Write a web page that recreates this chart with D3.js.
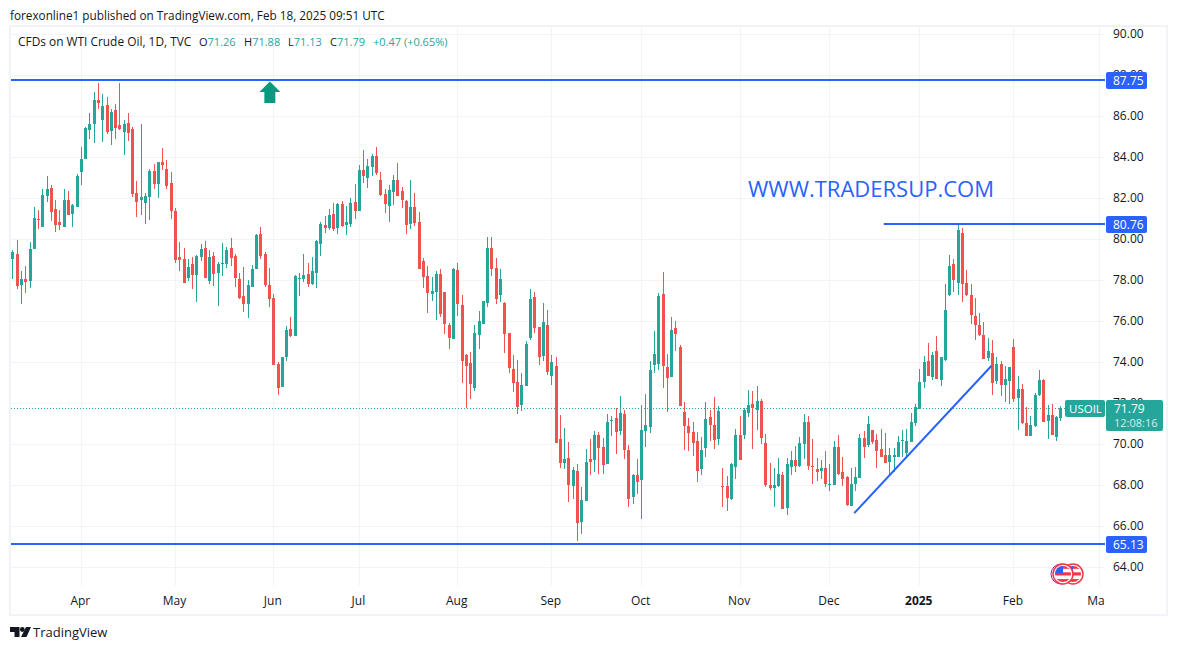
<!DOCTYPE html>
<html>
<head>
<meta charset="utf-8">
<script src="https://cdn.jsdelivr.net/npm/d3@7"></script>
<style>
    body { margin: 0; background: #fff; }
    text { font-family: "Open Sans", sans-serif; fill: #131722; }
</style>
</head>
<body>
<div id="chart"></div>
<script>
// Daily candles of USOIL
const opens = [
    79.04,79.28,77.77,78.07,77.97,79.53,80.99,80.6,82.11,82.5,
    81.48,80.85,80.6,81.92,81.24,81.58,83.28,83.92,85.33,85.63,
    86.8,85.82,86.55,85.28,86.31,85.58,85.24,85.67,85.38,82.26,
    81.92,81.77,82.07,83.33,82.7,83.77,83.43,82.75,81.38,79.14,
    79.04,78.11,78.8,78.26,79.14,79.58,77.97,79.19,78.36,78.8,
    78.8,79.58,79.19,78.07,77.24,76.85,77.67,78.55,80.26,79.28,
    77.77,77.14,73.92,72.8,74.26,75.63,75.28,78.07,78.07,78.31,
    77.82,78.36,79.77,80.7,80.55,81.24,80.55,81.72,80.7,80.75,
    81.82,81.38,83.38,82.99,83.53,84.07,82.89,82.21,81.63,82.31,
    82.89,82.36,81.87,80.75,81.58,80.85,78.94,78.21,77.33,77.43,
    78.31,77.43,75.82,75.14,78.5,76.8,74.36,73.97,72.75,75.33,
    75.87,76.89,79.58,78.6,77.28,76.89,75.43,73.67,73.04,71.92,
    72.84,75.19,77.19,75.72,74.31,75.82,73.33,73.82,70.26,69.09,
    69.33,67.97,68.7,66.21,67.24,69.28,69.24,70.46,69.87,69.04,
    71.14,71.28,70.65,71.48,69.72,67.43,68.5,68.26,70.65,70.85,
    73.87,73.92,77.33,73.77,73.28,75.67,74.75,71.58,70.89,70.6,
    70.16,68.8,69.82,71.33,70.94,70.26,67.97,67.97,67.33,68.89,
    70.46,70.46,71.53,71.97,71.67,72.11,70.07,68.02,67.87,67.97,
    68.5,66.89,68.9,69.24,68.94,70.02,71.09,68.94,68.8,68.7,
    68.85,68.02,68.02,69.87,68.65,68.41,66.99,68.07,68.36,70.31,
    69.97,70.7,70.21,69.77,69.48,69.14,69.38,69.38,70.21,69.58,
    70.11,71.04,71.72,73.04,74.07,73.28,74.55,73.14,74.11,77.28,
    78.8,77.87,80.31,77.87,77.28,76.26,75.82,75.33,74.21,74.46,
    73.09,73.92,72.89,73.09,74.75,72.26,72.7,71.04,70.41,70.89,
    72.41,73.14,71.14,71.43,70.36,71.26
];
const highs = [
    79.48,79.97,78.45,78.7,79.87,81.58,81.43,82.46,83.09,82.65,
    81.92,81.43,82.46,82.36,81.72,83.19,84.5,85.48,86.16,87.19,
    87.63,87.09,86.94,86.36,86.6,87.63,85.82,86.16,85.48,82.85,
    85.63,82.26,83.43,83.67,83.77,84.46,83.87,83.28,81.53,79.87,
    79.58,79.04,79.14,79.24,79.77,79.92,79.48,79.38,78.89,79.82,
    79.63,80.07,79.28,78.36,78.65,78.02,78.75,80.26,80.6,79.38,
    78.6,77.33,74.02,74.26,75.77,76.21,78.26,78.36,79.28,78.85,
    79.14,79.97,80.85,81.14,81.48,81.77,81.77,81.87,81.63,82.02,
    82.7,83.63,84.36,83.92,84.16,84.5,83.28,82.46,82.65,83.14,
    83.72,82.55,81.92,82.89,82.26,81.33,79.09,78.7,78.16,78.46,
    78.55,77.43,75.92,78.6,78.85,77.28,74.41,74.5,75.82,76.5,
    76.99,80.11,80.11,79.09,78.55,76.94,75.43,74.36,74.11,73.48,
    75.04,77.58,77.43,75.72,76.89,76.55,74.36,74.26,71.43,70.8,
    70.11,68.89,69.04,67.92,69.77,70.26,70.65,70.6,70.31,71.48,
    71.38,71.77,72.36,71.67,69.97,68.55,69.28,71.92,72.46,74.07,
    75.53,77.38,78.41,74.41,76.21,76.02,74.85,72.07,71.28,71.09,
    70.6,70.36,72.07,71.67,72.31,71.87,68.85,68.46,69.09,70.75,
    71.38,71.77,72.65,72.6,72.85,72.21,70.5,69.09,68.85,69.33,
    68.65,69.33,69.68,69.92,70.36,71.48,71.38,70.26,69.33,69.23,
    69.67,69.04,70.16,70.46,69.38,68.46,68.85,68.89,70.5,70.65,
    71.38,70.7,70.5,70.75,70.55,69.82,69.82,70.41,70.7,70.75,
    71.53,71.97,73.67,74.31,74.94,74.5,75.28,74.26,77.82,79.24,
    79.04,80.75,80.55,78.5,77.82,77.14,76.41,75.97,75.19,75.09,
    74.26,74.07,73.82,73.77,75.14,73.33,72.94,71.82,71.38,72.5,
    73.63,73.19,71.9,71.97,71.38,71.88
];
const lows = [
    78.07,77.56,76.85,77.38,77.63,79.53,80.5,80.6,81.82,80.89,
    80.36,80.46,80.6,81.19,80.6,81.58,82.65,83.92,84.89,84.7,
    86.34,84.75,85.14,84.6,84.89,85.33,84.11,84.8,82.07,81.09,
    81.19,80.75,80.94,82.46,82.02,83.38,82.46,80.99,78.85,78.46,
    77.87,77.97,77.58,76.94,78.94,78.11,77.82,77.72,76.75,78.21,
    78.6,78.7,77.67,77.09,76.45,76.16,77.67,78.55,79.04,77.67,
    76.7,73.87,72.41,72.8,74.07,75.24,75.28,77.24,77.92,77.67,
    77.77,77.63,79.19,80.31,80.46,80.41,80.26,80.6,80.21,80.6,
    80.99,81.38,82.75,82.5,83.09,83.14,82.11,81.28,80.85,81.67,
    82.11,81.53,80.26,80.5,80.65,78.55,77.63,76.41,76.99,76.07,
    76.21,75.38,74.65,75.14,76.26,72.99,71.76,72.21,72.6,74.65,
    75.87,76.7,78.21,76.85,76.94,74.46,73.48,72.55,71.48,71.63,
    72.84,75.09,75.43,73.87,74.07,73.38,72.89,70.07,68.85,68.8,
    67.19,67.33,65.28,65.63,67.24,68.5,68.65,68.55,68.55,69.04,
    70.41,69.53,70.46,69.28,66.94,67.09,67.58,66.36,69.87,70.55,
    73.48,73.63,72.75,71.58,73.28,74.55,71.87,69.72,69.67,69.43,
    68.16,68.5,69.38,70.16,69.77,69.97,66.94,66.75,67.28,68.31,
    69.24,70.26,71.33,69.77,70.7,70.02,67.92,67.77,66.94,67.92,
    66.85,66.55,68.5,68.65,68.9,69.28,68.75,68.07,68.21,68.31,
    67.92,67.72,68.02,68.5,67.97,66.99,66.99,67.72,68.36,69.33,
    69.87,70.02,68.85,69.38,69.09,68.46,68.65,69.38,69.38,69.43,
    70.11,70.89,71.72,72.75,73.33,73.14,73.19,72.85,74.06,77.23,
    77.43,77.28,76.94,77.23,75.87,75.09,75.28,74.16,74.06,72.41,
    72.94,72.36,72.07,71.97,72.07,70.7,70.99,70.41,70.41,70.84,
    72.36,71.09,70.26,70.46,70.16,71.13
];
const closes = [
    79.38,77.72,78.07,77.92,79.53,81.04,80.94,82.16,82.46,81.33,
    80.7,80.7,81.92,81.19,81.67,83.09,83.92,85.43,85.63,86.8,
    86.65,86.5,85.24,86.21,85.43,85.38,85.63,85.19,82.21,81.82,
    82.07,82.11,83.33,82.7,83.77,83.63,82.6,81.38,78.99,78.99,
    77.87,78.65,78.26,79.19,79.53,78.11,79.14,78.31,78.8,78.85,
    79.48,79.09,78.11,77.14,76.85,77.77,78.55,80.21,79.19,77.77,
    77.09,73.87,72.75,74.26,75.58,75.28,78.21,78.11,78.26,77.82,
    78.46,79.92,80.75,80.55,81.19,80.5,81.72,80.65,80.85,81.77,
    81.38,83.38,83.09,83.58,84.07,83.24,82.16,81.72,82.41,82.89,
    82.11,81.92,80.7,81.58,80.8,78.55,78.16,77.38,77.48,78.31,
    76.36,75.87,75.19,78.55,76.85,74.07,73.82,72.94,75.43,76.02,
    76.99,79.58,78.55,77.09,78.07,75.38,73.72,72.99,71.82,72.89,
    74.89,77.09,75.67,74.26,75.97,73.53,74.02,70.07,69.09,69.28,
    68.02,68.75,66.16,67.28,69.14,69.14,70.46,69.82,68.99,71.09,
    71.19,70.6,71.53,69.72,67.33,68.5,68.16,70.7,70.94,73.63,
    74.41,77.24,73.82,73.24,75.58,75.38,71.87,70.89,70.55,70.07,
    68.7,69.72,71.24,70.94,70.21,71.63,67.92,67.38,69.04,70.46,
    69.24,71.67,71.92,71.77,72.11,70.31,68.02,67.87,68.02,68.55,
    66.85,69.04,69.24,68.94,70.07,71.09,68.94,68.89,68.65,68.85,
    68.07,68.07,69.87,68.55,68.31,67.04,68.07,68.41,70.31,69.87,
    70.99,70.11,69.67,69.38,69.09,69.48,69.48,70.11,70.21,70.16,
    71.09,71.82,73.04,74.02,73.33,74.36,73.19,74.26,76.55,78.7,
    78.02,80.46,77.82,77.28,76.31,75.82,75.33,74.16,74.55,73.0,
    73.92,72.89,73.19,73.77,72.2,72.7,71.04,70.41,70.94,72.41,
    73.14,71.09,71.43,70.46,71.33,71.79
];

const priceTicks = [90, 88, 86, 84, 82, 80, 78, 76, 74, 72, 70, 68, 66, 64];
const monthLabels = ["Apr", "May", "Jun", "Jul", "Aug", "Sep", "Oct", "Nov", "Dec", "2025", "Feb", "Mar"];
const monthIndex = [16, 38, 61, 81, 104, 126, 147, 170, 191, 212, 234, 254];

// horizontal levels on the chart and the trend line [index, price]
const levels = [87.75, 80.76, 65.13];
const levelStart = [null, 203.7, null];
const trendLine = [[196.8, 66.64], [228.9, 73.83]];
const arrowIndex = 60;
const lastPrice = 71.79;

const width = 1177;
const height = 650;
const pane = {left: 11, right: 1105, top: 27, bottom: 586};
const teal = "#26a69a";
const red = "#ef5350";
const blue = "#2962ff";
const gridColor = "#f3f4f7";

const candles = opens.map(function(o, i) {
    return {i: i, o: o, h: highs[i], l: lows[i], c: closes[i]};
});

const xScale = d3.scaleLinear().domain([0, 245]).range([12.4, 1060.4]);
const yScale = d3.scaleLinear().domain([64, 84]).range([567.3, 157.3]);

const svg = d3.select("#chart").append("svg")
    .attr("width", width)
    .attr("height", height)
    .style("display", "block");

const defs = svg.append("defs");
defs.append("clipPath").attr("id", "paneClip").append("rect")
    .attr("x", pane.left).attr("y", pane.top)
    .attr("width", pane.right - pane.left).attr("height", pane.bottom - pane.top);
defs.append("clipPath").attr("id", "timeClip").append("rect")
    .attr("x", pane.left).attr("y", pane.bottom)
    .attr("width", pane.right - pane.left).attr("height", 29);

// Frame
svg.append("rect")
    .attr("x", 10).attr("y", 26)
    .attr("width", 1157).attr("height", 589)
    .attr("fill", "none").attr("stroke", "#f0f3fa").attr("stroke-width", 2);

// Header
svg.append("text")
    .attr("x", 10).attr("y", 19.5)
    .attr("font-size", 11.75)
    .text("forexonline1 published on TradingView.com, Feb 18, 2025 09:51 UTC");

// Grid
const plot = svg.append("g").attr("clip-path", "url(#paneClip)");
plot.selectAll(".hgrid").data(priceTicks).enter().append("line")
    .attr("x1", pane.left).attr("x2", pane.right)
    .attr("y1", function(d) { return Math.floor(yScale(d)) + 0.5; })
    .attr("y2", function(d) { return Math.floor(yScale(d)) + 0.5; })
    .attr("stroke", gridColor);
plot.selectAll(".vgrid").data(monthIndex).enter().append("line")
    .attr("x1", function(d) { return Math.round(xScale(d)) + 0.5; })
    .attr("x2", function(d) { return Math.round(xScale(d)) + 0.5; })
    .attr("y1", pane.top).attr("y2", pane.bottom)
    .attr("stroke", gridColor);

// Last price line
plot.append("line")
    .attr("x1", pane.left).attr("x2", pane.right)
    .attr("y1", Math.round(yScale(lastPrice)) + 0.5)
    .attr("y2", Math.round(yScale(lastPrice)) + 0.5)
    .attr("stroke", teal)
    .attr("stroke-dasharray", "1 2");

// Candles
const candleColor = function(d) { return d.c >= d.o ? teal : red; };

plot.selectAll(".wick").data(candles).enter().append("line")
    .attr("x1", function(d) { return Math.round(xScale(d.i)) + 0.5; })
    .attr("x2", function(d) { return Math.round(xScale(d.i)) + 0.5; })
    .attr("y1", function(d) { return Math.round(yScale(d.h)); })
    .attr("y2", function(d) { return Math.round(yScale(d.l)); })
    .attr("stroke", candleColor);

plot.selectAll(".body").data(candles).enter().append("rect")
    .attr("x", function(d) { return Math.round(xScale(d.i)) - 1; })
    .attr("width", 3)
    .attr("y", function(d) { return Math.round(yScale(Math.max(d.o, d.c))); })
    .attr("height", function(d) {
        return Math.max(1, Math.round(yScale(Math.min(d.o, d.c))) - Math.round(yScale(Math.max(d.o, d.c))));
    })
    .attr("fill", candleColor);

// Levels and trend line
plot.selectAll(".level").data(levels).enter().append("line")
    .attr("x1", function(d, i) { return levelStart[i] === null ? pane.left : xScale(levelStart[i]); })
    .attr("x2", pane.right)
    .attr("y1", function(d) { return Math.round(yScale(d)); })
    .attr("y2", function(d) { return Math.round(yScale(d)); })
    .attr("stroke", blue)
    .attr("stroke-width", 2);

plot.append("path")
    .attr("d", d3.line()
        .x(function(d) { return xScale(d[0]); })
        .y(function(d) { return yScale(d[1]); })(trendLine))
    .attr("fill", "none")
    .attr("stroke", blue)
    .attr("stroke-width", 2);

// Up arrow
plot.append("path")
    .attr("transform", `translate(${xScale(arrowIndex) + 0.8},${yScale(levels[0]) + 1})`)
    .attr("d", "M0,0 L10.5,10.5 L5.5,10.5 L5.5,21.5 L-5.5,21.5 L-5.5,10.5 L-10.5,10.5 Z")
    .attr("fill", "#089981");

// Watermark text
svg.append("text")
    .attr("x", 748).attr("y", 197)
    .attr("font-size", 22)
    .style("fill", blue)
    .text("WWW.TRADERSUP.COM");

// Price axis
const yAxis = svg.append("g")
    .attr("transform", `translate(${pane.right},-0.3)`)
    .call(d3.axisRight(yScale)
        .tickValues(priceTicks)
        .tickSize(0)
        .tickPadding(8)
        .tickFormat(d3.format(".2f")));
yAxis.select(".domain").remove();
yAxis.selectAll("text").attr("font-size", 12).style("font-family", '"Open Sans", sans-serif').style("fill", "#131722");

// Time axis
const xAxis = svg.append("g")
    .attr("clip-path", "url(#timeClip)")
    .append("g")
    .attr("transform", `translate(0,${pane.bottom})`)
    .call(d3.axisBottom(xScale)
        .tickValues(monthIndex)
        .tickSize(0)
        .tickPadding(10)
        .tickFormat(function(d) { return monthLabels[monthIndex.indexOf(d)]; }));
xAxis.select(".domain").remove();
xAxis.selectAll("text")
    .attr("font-size", 12)
    .attr("dx", -1)
    .style("font-family", '"Open Sans", sans-serif')
    .style("fill", "#131722")
    .style("font-weight", function(d) { return d === 212 ? "bold" : "normal"; });

// Level price chips
const chips = svg.append("g");
levels.forEach(function(d) {
    chips.append("rect")
        .attr("x", 1106).attr("y", Math.round(yScale(d)) - 8)
        .attr("width", 41).attr("height", 17).attr("rx", 2)
        .attr("fill", blue);
    chips.append("text")
        .attr("x", 1113).attr("y", Math.round(yScale(d)) + 4.5)
        .attr("font-size", 12).style("fill", "#fff")
        .text(d.toFixed(2));
});

// Last price chips
const lastY = Math.round(yScale(lastPrice));
chips.append("rect")
    .attr("x", 1065).attr("y", lastY - 8)
    .attr("width", 40).attr("height", 17).attr("rx", 2)
    .attr("fill", teal);
chips.append("text")
    .attr("x", 1069).attr("y", lastY + 4.5)
    .attr("font-size", 11.5).style("fill", "#fff")
    .text("USOIL");
chips.append("rect")
    .attr("x", 1106).attr("y", lastY - 8)
    .attr("width", 57).attr("height", 31).attr("rx", 2)
    .attr("fill", teal);
chips.append("text")
    .attr("x", 1114).attr("y", lastY + 4.5)
    .attr("font-size", 12).style("fill", "#fff")
    .text(lastPrice.toFixed(2));
chips.append("text")
    .attr("x", 1114).attr("y", lastY + 19)
    .attr("font-size", 11).style("fill", "#d4eeeb")
    .text("12:08:16");

// Legend line
const legend = svg.append("g").attr("font-size", 11);
legend.append("text").attr("x", 18).attr("y", 46).attr("font-size", 11.9).text("CFDs on WTI Crude Oil, 1D, TVC");
const legendKeys = ["O", "H", "L", "C"];
const legendVals = ["71.26", "71.88", "71.13", "71.79"];
const legendX = [199, 244, 288, 330];
legendKeys.forEach(function(k, i) {
    const t = legend.append("text").attr("x", legendX[i]).attr("y", 46).text(k);
    t.append("tspan").style("fill", teal).text(legendVals[i]);
});
legend.append("text").attr("x", 373).attr("y", 46).style("fill", teal).text("+0.47 (+0.65%)");

// Event flags near the bottom right
const flagY = 574;
const flagCenters = [1073, 1063];
const flags = svg.append("g");
flags.append("circle").attr("cx", 1061).attr("cy", flagY).attr("r", 10)
    .attr("fill", "#fff").attr("stroke", "#9c27b0").attr("stroke-width", 1);
flagCenters.forEach(function(cx, n) {
    defs.append("clipPath").attr("id", "flagClip" + n)
        .append("circle").attr("cx", cx).attr("cy", flagY).attr("r", 8);
    flags.append("circle").attr("cx", cx).attr("cy", flagY).attr("r", 10)
        .attr("fill", "#fff").attr("stroke", "#f23645").attr("stroke-width", 1.5);
    const flagBody = flags.append("g").attr("clip-path", `url(#flagClip${n})`);
    flagBody.selectAll("rect").data([0, 1, 2, 3, 4]).enter().append("rect")
        .attr("x", cx - 9).attr("y", function(d) { return flagY - 8.5 + d * 3.4; })
        .attr("width", 18).attr("height", 3.4)
        .attr("fill", function(d) { return d % 2 === 0 ? "#f23645" : "#fff"; });
    flagBody.append("rect")
        .attr("x", cx - 9).attr("y", flagY - 8.5)
        .attr("width", 9).attr("height", 8)
        .attr("fill", "#2962ff");
});

// TradingView logo
svg.append("path")
    .attr("d", "M10,627 H19.5 V637 H14.5 V632 H10 Z M26,627 H31 L26.5,637 H21 Z")
    .attr("fill", "#131722");
svg.append("circle").attr("cx", 22.3).attr("cy", 629.5).attr("r", 2.4).attr("fill", "#131722");
svg.append("text")
    .attr("x", 33).attr("y", 637)
    .attr("font-size", 13)
    .text("TradingView");
</script>
</body>
</html>
